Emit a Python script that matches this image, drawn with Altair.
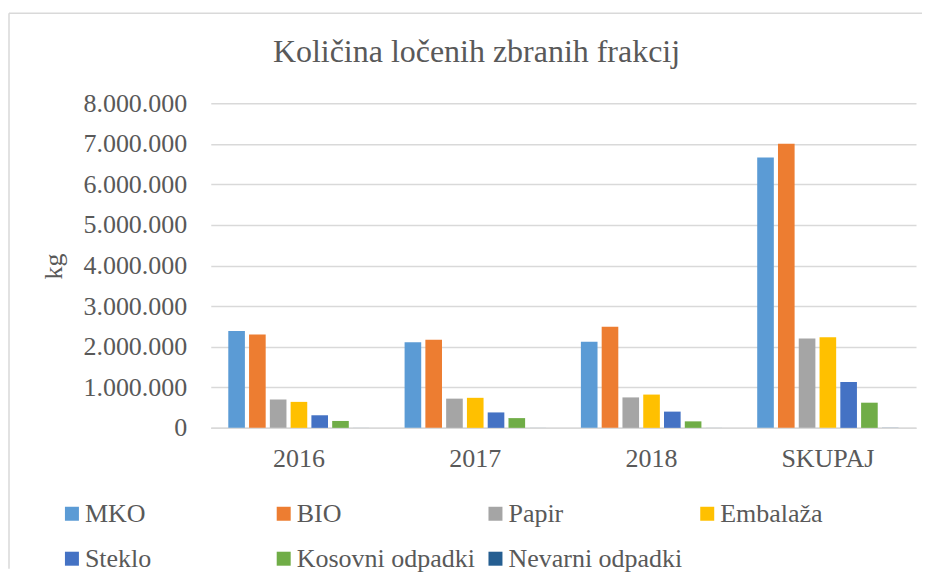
import altair as alt
import pandas as pd

years = ["2016", "2017", "2018", "SKUPAJ"]
fractions = ["MKO", "BIO", "Papir", "Embalaža", "Steklo", "Kosovni odpadki", "Nevarni odpadki"]
colors = ["#5b9bd5", "#ed7d31", "#a5a5a5", "#ffc000", "#4472c4", "#70ad47", "#255e91"]

mko = [2385000, 2110000, 2120000, 6660000]
bio = [2300000, 2170000, 2490000, 7000000]
papir = [700000, 720000, 750000, 2200000]
embalaza = [640000, 740000, 820000, 2230000]
steklo = [310000, 380000, 400000, 1130000]
kosovni = [170000, 240000, 160000, 620000]
nevarni = [1000, 1000, 1000, 3000]

title_text = "Količina ločenih zbranih frakcij"

series = [mko, bio, papir, embalaza, steklo, kosovni, nevarni]
rows = []
for name, vals in zip(fractions, series):
    for y, v in zip(years, vals):
        rows.append({"leto": y, "frakcija": name, "kg": v})
df = pd.DataFrame(rows)

FONT = "Liberation Serif"
TXT = "#595959"

bars = alt.Chart(df).mark_bar().encode(
    x=alt.X("leto:N", sort=years, title=None,
            scale=alt.Scale(paddingInner=0.175, paddingOuter=0.0875),
            axis=alt.Axis(labelAngle=0, labelPadding=18, ticks=False,
                          domainColor="#d9d9d9", domainWidth=1.5, grid=False)),
    xOffset=alt.XOffset("frakcija:N", sort=fractions,
                        scale=alt.Scale(paddingInner=0.2, paddingOuter=0.1)),
    y=alt.Y("kg:Q", title="kg",
            scale=alt.Scale(domain=[0, 8000000]),
            axis=alt.Axis(values=[i * 1000000 for i in range(9)],
                          labelExpr="replace(format(datum.value, ',d'), /,/g, '.')",
                          domain=False, ticks=False, labelPadding=24,
                          gridColor="#d9d9d9", gridWidth=1.5,
                          titleAngle=270, titleX=-157, titleY=163,
                          titleAlign="center", titleBaseline="middle")),
    color=alt.Color("frakcija:N", sort=fractions,
                    scale=alt.Scale(domain=fractions, range=colors),
                    legend=alt.Legend(title=None, orient="none", legendX=-152, legendY=398,
                                      direction="horizontal",
                                      columns=4, gridAlign="all", columnPadding=7,
                                      rowPadding=19, symbolType="square", symbolSize=196,
                                      symbolStrokeWidth=0, labelOffset=0, labelLimit=400,
                                      labelFont=FONT, labelFontSize=26, labelColor=TXT)),
)

frame = alt.Chart(alt.Data(values=[{"t": title_text}]))
left_border = frame.mark_rule(color="#d9d9d9", strokeWidth=1.5).encode(
    x=alt.value(-202), y=alt.value(-90), y2=alt.value(466))
top_border = frame.mark_rule(color="#d9d9d9", strokeWidth=1.5).encode(
    x=alt.value(-202), x2=alt.value(712), y=alt.value(-90))
title_mark = frame.mark_text(font=FONT, fontSize=32, color=TXT, align="center",
                             baseline="alphabetic").encode(
    text="t:N", x=alt.value(266), y=alt.value(-41))

chart = alt.layer(left_border, top_border, title_mark, bars).properties(
    width=706, height=325,
    padding={"left": 0, "top": 4, "right": 0, "bottom": 0},
).configure_view(stroke=None).configure_axis(
    labelFont=FONT, labelFontSize=26, labelColor=TXT,
    titleFont=FONT, titleFontSize=26, titleColor=TXT, titleFontWeight="normal",
).configure_legend(labelFont=FONT, labelFontSize=26, labelColor=TXT)

chart.save("out.html", embed_options={"renderer": "svg", "actions": False})
